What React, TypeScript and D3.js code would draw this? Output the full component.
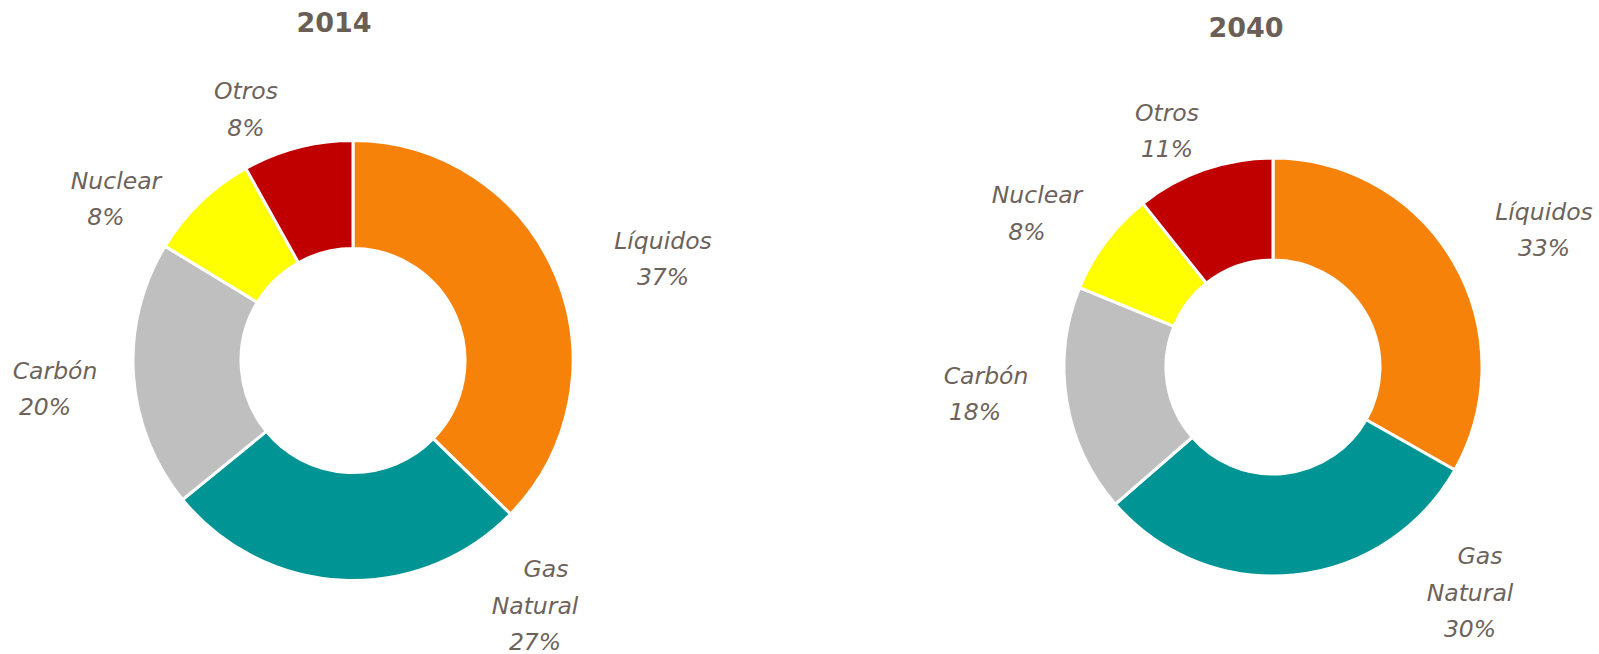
import * as React from 'react';
import {pie as d3Pie, arc as d3Arc, PieArcDatum} from 'd3';

// Categories and shares (%)
const categories = ['Líquidos', 'Gas\nNatural', 'Carbón', 'Nuclear', 'Otros'];
const shares2014 = [37.3, 26.8, 19.6, 8.2, 8.1];
const shares2040 = [33.2, 30.4, 17.6, 8.1, 10.7];
const years = ['2014', '2040'];
const colors = ['#f7820a', '#009494', '#bfbfbf', '#ffff00', '#c00000'];

const TEXT = '#6d625a';
const LINE = 36.5;

// layout of each donut; label points are where the percent line sits
interface DonutLayout {
  cx: number; cy: number; r: number; r0: number;
  titleX: number; titleY: number;
  labels: {x: number; y: number; nameDx: number}[];
}

const layouts: DonutLayout[] = [
  {
    cx: 353, cy: 360.5, r: 220, r0: 112, titleX: 334, titleY: 22.5,
    labels: [
      {x: 663, y: 277, nameDx: 0},
      {x: 535, y: 642, nameDx: 11},
      {x: 45, y: 407, nameDx: 10},
      {x: 106, y: 217, nameDx: 10},
      {x: 246, y: 127.5, nameDx: 0},
    ],
  },
  {
    cx: 1273, cy: 367, r: 209, r0: 107, titleX: 1246, titleY: 27.5,
    labels: [
      {x: 1544, y: 248, nameDx: 0},
      {x: 1470, y: 629, nameDx: 10},
      {x: 975, y: 412, nameDx: 11},
      {x: 1027, y: 231.5, nameDx: 10},
      {x: 1167, y: 149, nameDx: 0},
    ],
  },
];

function Donut(props: {values: number[]; year: string; layout: DonutLayout}) {
  const {values, year, layout} = props;
  const arcs = d3Pie<number>().sort(null).value((d) => d)(values);
  const arc = d3Arc<PieArcDatum<number>>().innerRadius(layout.r0).outerRadius(layout.r);
  return <g>
    <text x={layout.titleX} y={layout.titleY} dy="0.35em" textAnchor="middle"
      fontFamily="DejaVu Sans" fontWeight="bold" fontSize={27} fill="#6b5e55">{year}</text>
    <g transform={`translate(${layout.cx},${layout.cy})`}>
      {arcs.map((a, i) =>
        <path key={i} d={arc(a) || ''} fill={colors[i]} stroke="#fff" strokeWidth={3} />)}
    </g>
    {arcs.map((a, i) => {
      const lab = layout.labels[i];
      const nameLines = categories[i].split('\n');
      const pct = `${Math.round(values[i])}%`;
      return <g key={i} fontFamily="DejaVu Sans" fontStyle="italic" fontSize={23.5}
        fill={TEXT} textAnchor="middle">
        {nameLines.map((t, j) =>
          <text key={j} dy="0.35em"
            x={lab.x + (j === 0 ? lab.nameDx : 0)}
            y={lab.y - (nameLines.length - j) * LINE}>{t}</text>)}
        <text x={lab.x} y={lab.y} dy="0.35em">{pct}</text>
      </g>;
    })}
  </g>;
}

export default function App() {
  const series = [shares2014, shares2040];
  return <svg width={1599} height={654}
    style={{position: 'absolute', left: 0, top: 0, background: '#fff'}}>
    {series.map((s, i) =>
      <Donut key={years[i]} values={s} year={years[i]} layout={layouts[i]} />)}
  </svg>;
}
